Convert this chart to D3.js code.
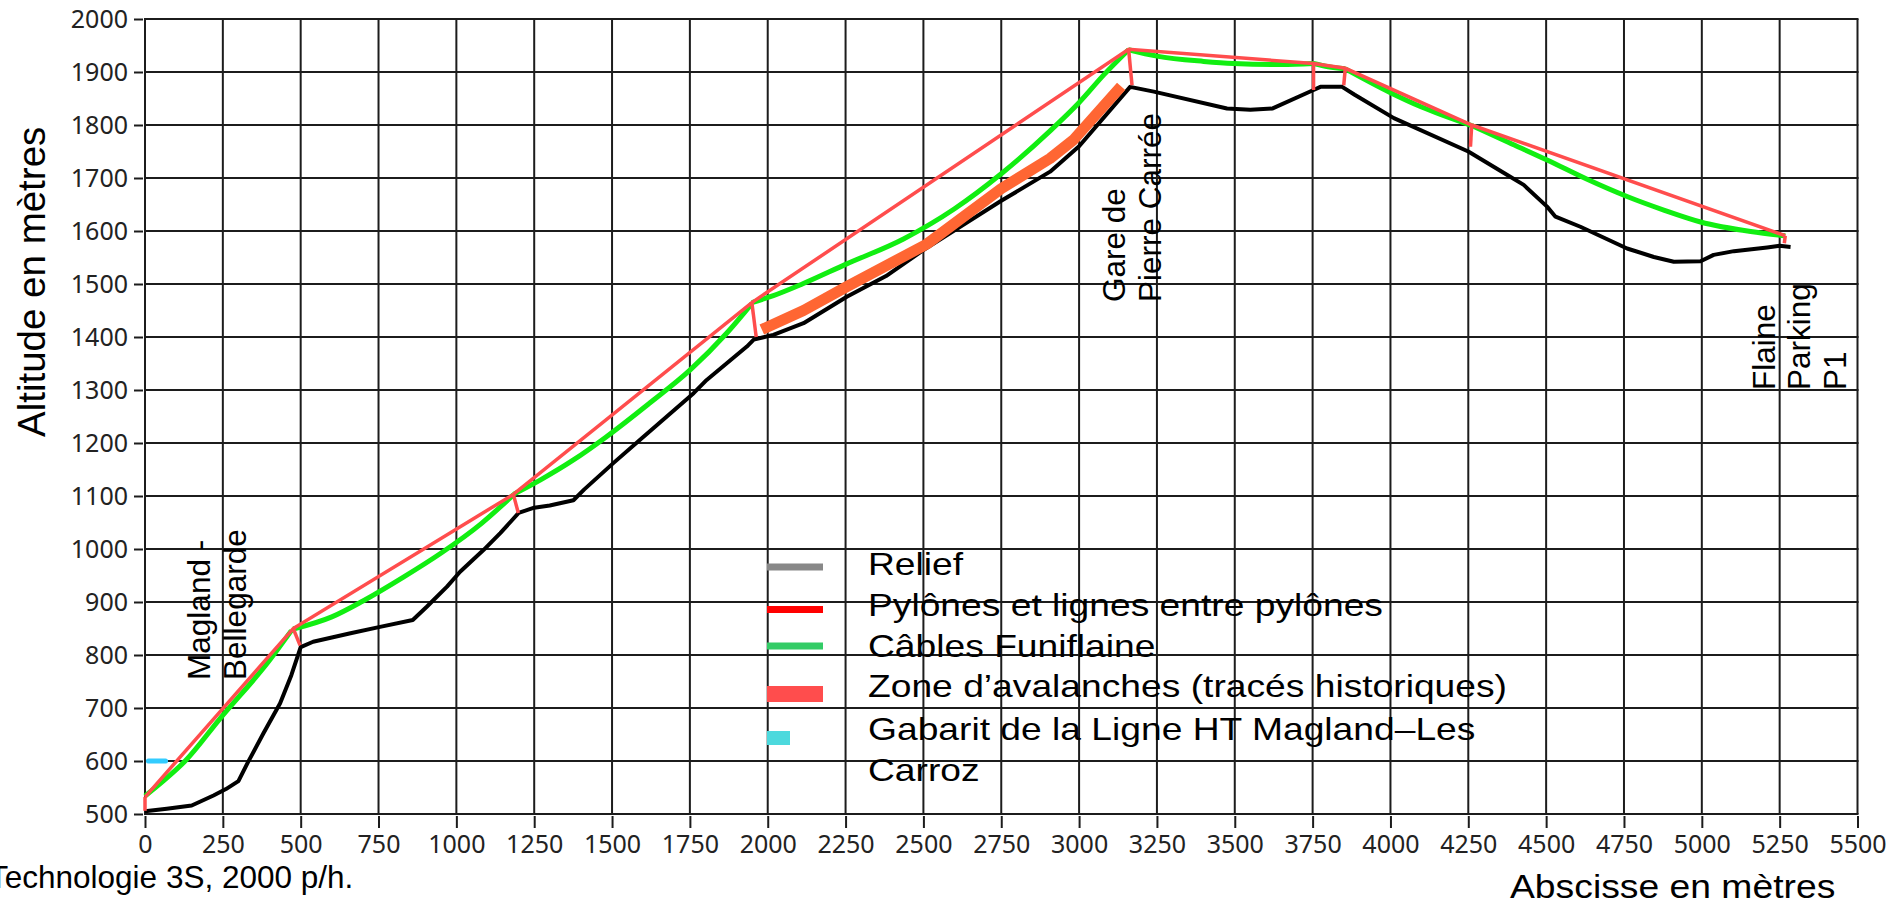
<!DOCTYPE html>
<html><head><meta charset="utf-8">
<script src="https://cdn.jsdelivr.net/npm/d3@7"></script>
<style>
html,body{margin:0;padding:0;background:#fff;overflow:hidden}
svg{display:block}
</style></head>
<body>
<script>
// ---------- DATA ----------
const xTickValues = [0,250,500,750,1000,1250,1500,1750,2000,2250,2500,2750,3000,3250,3500,3750,4000,4250,4500,4750,5000,5250,5500];
const yTickValues = [500,600,700,800,900,1000,1100,1200,1300,1400,1500,1600,1700,1800,1900,2000];

// Relief (terrain profile) [abscisse m, altitude m]
const relief = [[0,505],[70,510],[150,516],[220,535],[260,547],[300,562],[330,597],[380,652],[434,709],[470,762],[500,815],[540,825],[660,841],[755,853],[860,866],[905,891],[970,929],[1012,957],[1087,998],[1141,1030],[1200,1068],[1250,1078],[1300,1082],[1376,1092],[1410,1112],[1504,1162],[1590,1206],[1762,1294],[1804,1319],[1933,1382],[1955,1395],[2018,1404],[2115,1426],[2254,1476],[2380,1515],[2500,1564],[2750,1657],[2907,1712],[3000,1760],[3164,1872],[3240,1863],[3475,1831],[3550,1829],[3620,1831],[3753,1866],[3775,1872],[3845,1872],[3885,1857],[4011,1813],[4250,1750],[4374,1706],[4428,1687],[4503,1646],[4530,1627],[4610,1608],[4760,1567],[4846,1551],[4910,1542],[4996,1543],[5038,1555],[5103,1562],[5210,1569],[5250,1572],[5285,1570]];

// Pylons: [top x, top altitude, foot x, foot altitude]
const pylons = [[0,532,0,506],[476,850,498,818],[1183,1103,1199,1068],[1949,1465,1963,1400],[3159,1943,3170,1875],[3753,1916,3753,1866],[3855,1907,3850,1875],[4261,1800,4257,1759],[5268,1591,5265,1577]];

// Cable spans (Câbles Funiflaine)
const cableSpans = [
  [[0,534],[60,563],[129,600],[241,680],[400,790],[470,846]],
  [[476,849],[600,872],[700,902],[830,947],[950,992],[1080,1048],[1183,1102]],
  [[1183,1103],[1269,1130],[1376,1168],[1480,1211],[1620,1275],[1751,1338],[1868,1407],[1949,1463]],
  [[1949,1465],[2018,1478],[2111,1500],[2250,1537],[2436,1585],[2600,1642],[2750,1708],[2907,1789],[2998,1841],[3080,1895],[3159,1942]],
  [[3159,1942],[3250,1930],[3400,1920],[3496,1916],[3650,1914],[3753,1916]],
  [[3753,1916],[3800,1910],[3855,1906]],
  [[3855,1906],[4000,1861],[4100,1834],[4261,1799]],
  [[4261,1799],[4380,1767],[4503,1734],[4630,1698],[4760,1665],[4880,1639],[4996,1617],[5157,1599],[5268,1591]]
];

// Avalanche zone (historical paths)
const avalanche = [[1981,1414],[2115,1450],[2254,1495],[2510,1575],[2750,1680],[2907,1737],[2982,1772],[3135,1873]];

// Gabarit HT line
const gabarit = [[11,600],[66,600]];

const legendLabels = ["Relief","Pylônes et lignes entre pylônes","Câbles Funiflaine","Zone d’avalanches (tracés historiques)","Gabarit de la Ligne HT Magland–Les","Carroz"];
const stationLabels = [
  {lines:["Magland -","Bellegarde"], x:209, y:753},
  {lines:["Gare de","Pierre Carrée"], x:3148, y:1466},
  {lines:["Flaine","Parking","P1"], x:5235, y:1300}
];
const xTitle = "Abscisse en mètres";
const yTitle = "Altitude en mètres";
const footnote = "Technologie 3S, 2000 p/h.";

// ---------- CHART ----------
const W = 1901, H = 904;
const svg = d3.select("body").append("svg").attr("width", W).attr("height", H);
const x = d3.scaleLinear().domain([0,5500]).range([145,1857.5]);
const y = d3.scaleLinear().domain([500,2000]).range([814,19]);
const tf = "'Noto Sans', 'Open Sans', sans-serif";
const af = "'Liberation Sans', Arial, sans-serif";

// grid
const grid = svg.append("g").attr("stroke","#1c1c1c").attr("stroke-width",2);
grid.selectAll("line.v").data(xTickValues).join("line")
  .attr("x1", d=>x(d)).attr("x2", d=>x(d)).attr("y1", y(2000)).attr("y2", y(500));
grid.selectAll("line.h").data(yTickValues).join("line")
  .attr("x1", x(0)-1).attr("x2", x(5500)+1).attr("y1", d=>y(d)).attr("y2", d=>y(d));

// axes
const ay = svg.append("g").attr("transform","translate(143,0)")
  .call(d3.axisLeft(y).tickValues(yTickValues).tickSize(9).tickSizeOuter(0).tickPadding(6).tickFormat(d3.format("d")));
ay.select(".domain").remove();
ay.selectAll(".tick line").attr("stroke","#1c1c1c").attr("stroke-width",2);
ay.selectAll(".tick text").attr("font-family", tf).attr("font-size", 25).attr("fill","#222");

const ax = svg.append("g").attr("transform","translate(0,816)")
  .call(d3.axisBottom(x).tickValues(xTickValues).tickSize(12).tickSizeOuter(0).tickPadding(7).tickFormat(d3.format("d")));
ax.select(".domain").remove();
ax.selectAll(".tick line").attr("stroke","#1c1c1c").attr("stroke-width",2);
ax.selectAll(".tick text").attr("font-family", tf).attr("font-size", 25).attr("fill","#222");

const line = d3.line().x(d=>x(d[0])).y(d=>y(d[1]));
const smooth = d3.line().x(d=>x(d[0])).y(d=>y(d[1])).curve(d3.curveMonotoneX);

// relief
svg.append("path").datum(relief).attr("d", line)
  .attr("fill","none").attr("stroke","#000").attr("stroke-width",4).attr("stroke-linejoin","round");

// avalanche zone
svg.append("path").datum(avalanche).attr("d", line)
  .attr("fill","none").attr("stroke","#ff6633").attr("stroke-width",11).attr("stroke-linejoin","round");

// cables
svg.append("g").selectAll("path").data(cableSpans).join("path")
  .attr("d", smooth).attr("fill","none").attr("stroke","#11ee11").attr("stroke-width",5);

// lines between pylons
svg.append("path").datum(pylons.map(p=>[p[0],p[1]])).attr("d", line)
  .attr("fill","none").attr("stroke","#ff4d4d").attr("stroke-width",3.5);
svg.append("g").selectAll("line").data(pylons).join("line")
  .attr("x1", d=>x(d[0])).attr("y1", d=>y(d[1])).attr("x2", d=>x(d[2])).attr("y2", d=>y(d[3]))
  .attr("stroke","#ff4d4d").attr("stroke-width",3.5);

// gabarit
svg.append("path").datum(gabarit).attr("d", line)
  .attr("stroke","#33ccff").attr("stroke-width",5).attr("stroke-linecap","round");

// station labels (rotated)
stationLabels.forEach(s=>{
  const g = svg.append("g").attr("transform", `translate(${x(s.x)},${y(s.y)}) rotate(-90)`);
  s.lines.forEach((t,i)=>{
    g.append("text").attr("x",0).attr("y", i*35.5).text(t)
      .attr("font-family", af).attr("font-size", 31.5).attr("fill","#000");
  });
});

// axis titles
svg.append("text").attr("transform","translate(45,437) rotate(-90)").text(yTitle)
  .attr("font-family", af).attr("font-size", 38.5).attr("fill","#000");
svg.append("text").attr("transform","translate(1510,898) scale(1.13,1)").text(xTitle)
  .attr("font-family", af).attr("font-size", 33).attr("fill","#000");
svg.append("text").attr("x",-11).attr("y",888).text(footnote)
  .attr("font-family", af).attr("font-size", 31.5).attr("fill","#000");

// legend
const lg = svg.append("g");
const rowY = [575,616,657,697,740,781];
legendLabels.forEach((t,i)=>{
  lg.append("text").attr("transform",`translate(868,${rowY[i]}) scale(1.22,1)`).text(t)
    .attr("font-family", af).attr("font-size", 30.5).attr("fill","#000");
});
const sw = [{c:"#888888",w:7,cy:567},{c:"#ff0000",w:7,cy:609.5},{c:"#33cc66",w:7,cy:646},{c:"#ff4d4d",w:16,cy:694}];
sw.forEach(s=>{
  lg.append("rect").attr("x",767).attr("width",56).attr("y",s.cy-s.w/2).attr("height",s.w).attr("fill",s.c);
});
lg.append("rect").attr("x",767).attr("y",731).attr("width",23).attr("height",14).attr("fill","#4dd9dd");
</script>
</body></html>
